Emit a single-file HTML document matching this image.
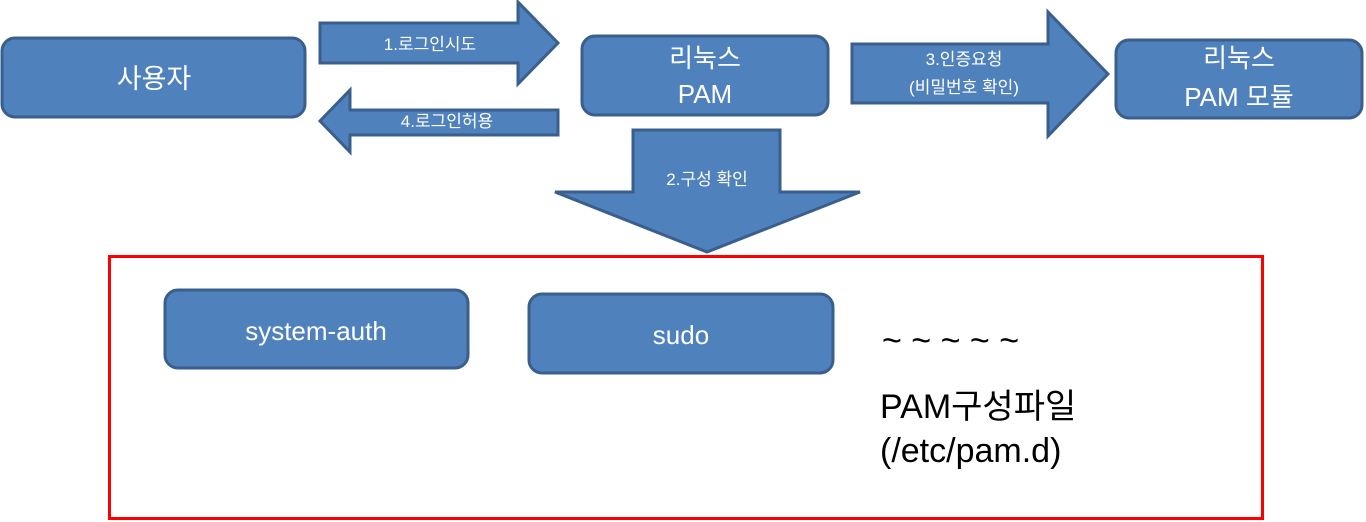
<!DOCTYPE html>
<html><head><meta charset="utf-8"><style>
html,body{margin:0;padding:0;background:#fff;}
svg{display:block;font-family:"Liberation Sans","Noto Sans CJK KR",sans-serif;}
</style></head><body>
<svg width="1366" height="522" viewBox="0 0 1366 522" xmlns="http://www.w3.org/2000/svg">
<g fill="#4f81bd" stroke="#3a5f8c" stroke-width="3" stroke-linejoin="miter">
<rect x="2" y="38" width="303" height="79" rx="13"/>
<rect x="582" y="36" width="246" height="79" rx="13"/>
<rect x="1116" y="40" width="246" height="78" rx="13"/>
<rect x="165" y="290" width="303" height="78" rx="13"/>
<rect x="529" y="294" width="304" height="79" rx="13"/>
<polygon points="320,23 518,23 518,2 558,43 518,84 518,63 320,63"/>
<polygon points="558,110 350,110 350,90 320,121 350,152 350,135 558,135"/>
<polygon points="633,130 780,130 780,192 860,192 707,252 555,192 633,192"/>
<polygon points="852,44 1048,44 1048,12 1108,74 1048,136 1048,103 852,103"/>
</g>
<rect x="109.5" y="256.5" width="1153" height="262" fill="none" stroke="#ff0000" stroke-width="3"/>
<g fill="#fff" text-anchor="middle">
<text x="154" y="88" font-size="27">사용자</text>
<text x="705" y="67" font-size="26">리눅스</text>
<text x="705" y="103" font-size="26">PAM</text>
<text x="1239" y="67" font-size="26">리눅스</text>
<text x="1239" y="106" font-size="26">PAM 모듈</text>
<text x="316" y="340" font-size="26">system-auth</text>
<text x="681" y="344" font-size="26">sudo</text>
<text x="430" y="50" font-size="17">1.로그인시도</text>
<text x="447" y="127" font-size="17">4.로그인허용</text>
<text x="707" y="185" font-size="17">2.구성 확인</text>
<text x="964" y="65" font-size="17">3.인증요청</text>
<text x="964" y="93" font-size="17">(비밀번호 확인)</text>
</g>
<g fill="#000" font-size="34">
<text x="882" y="352">~ ~ ~ ~ ~</text>
<text x="880" y="418">PAM구성파일</text>
<text x="880" y="462">(/etc/pam.d)</text>
</g>
</svg>
</body></html>
